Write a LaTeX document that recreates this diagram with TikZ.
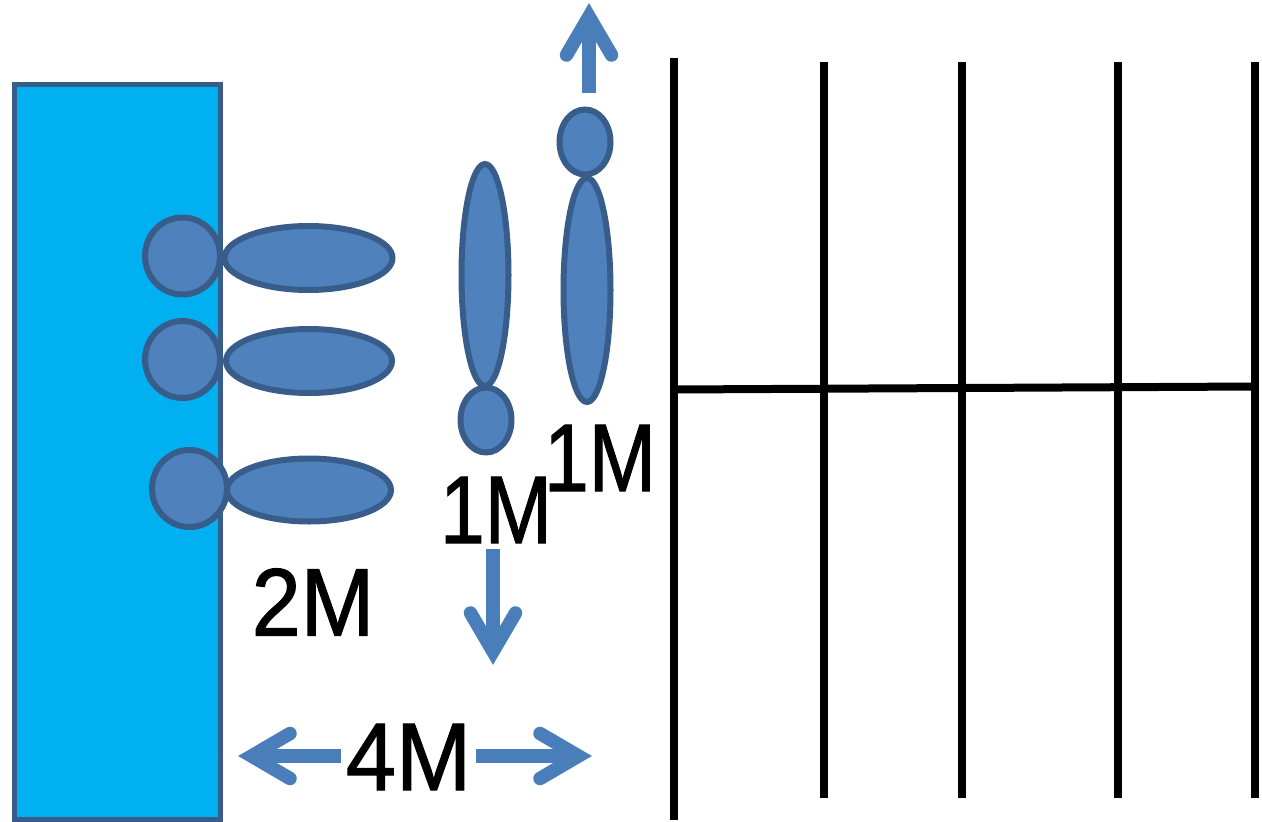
\documentclass[tikz,border=0pt]{standalone}
\usepackage{fontspec}
\setmainfont{Liberation Sans}[RawFeature={embolden=1.2}]
\usetikzlibrary{shapes.geometric,calc}
\definecolor{blobfill}{HTML}{4F81BD}
\definecolor{blobline}{HTML}{385D8A}
\definecolor{arrowblue}{HTML}{4A7EBB}
\definecolor{wallblue}{HTML}{00B0F0}
\tikzset{
  blob/.style={ellipse,draw=blobline,fill=blobfill,line width=6pt,inner sep=0pt,outer sep=0pt,minimum width=#1},
  wall/.style={draw=blobline,fill=wallblue,line width=5pt,inner sep=0pt,outer sep=0pt,anchor=north west,minimum width=206.5pt,minimum height=735pt},
  rung/.style={draw=black,line width=8pt},
  shaft/.style={draw=arrowblue,line width=13.5pt},
  headmark/.style={draw=arrowblue,line width=13.5pt,line cap=round,miter limit=10},
  size/.style={font=\fontsize{96}{96}\selectfont,inner sep=0pt,text=black,xscale=#1,transform shape}
}
\newcommand{\headat}[2]{\draw[headmark,shift={(#1)},rotate=#2] (-52,22.5) -- (-13.5,0) -- (-52,-22.5);}
\begin{document}
\begin{tikzpicture}[x=1pt,y=-1pt]
\useasboundingbox (0,0) rectangle (1262,822);
\node[wall] (wallbox) at (14,84) {};
% heads on the wall
\node[blob=75pt,minimum height=77pt] (c1) at (182.5,256) {};
\node[blob=75pt,minimum height=77pt] (c2) at (182.5,359.5) {};
\node[blob=75pt,minimum height=77pt] (c3) at (189.5,488.5) {};
\node[blob=168pt,minimum height=64pt] (e1) at (308.5,258) {};
\node[blob=166pt,minimum height=64pt] (e2) at (309,361) {};
\node[blob=164pt,minimum height=63pt] (e3) at (309,490) {};
% vertical molecules
\node[blob=47pt,minimum height=222pt] (v1) at (485,275) {};
\node[blob=47pt,minimum height=224pt] (v2) at (587,290) {};
\node[blob=51pt,minimum height=65pt] (s1) at (486,420) {};
\node[blob=51pt,minimum height=65pt] (s2) at (585,142) {};
% lattice
\coordinate (a1) at (673.5,58);  \coordinate (a2) at (673.5,820);
\coordinate (b1) at (824,62);  \coordinate (b2) at (824,798);
\coordinate (d1) at (962,62);  \coordinate (d2) at (962,798);
\coordinate (f1) at (1117.5,62); \coordinate (f2) at (1117.5,798);
\coordinate (g1) at (1255,62); \coordinate (g2) at (1255,798);
\coordinate (h1) at (674,389.5); \coordinate (h2) at (1255,386.5);
\draw[rung] (a1) -- (a2);
\draw[rung] (b1) -- (b2);
\draw[rung] (d1) -- (d2);
\draw[rung] (f1) -- (f2);
\draw[rung] (g1) -- (g2);
\draw[rung] (h1) -- (h2);
% arrows
\coordinate (upS) at (589,93);   \coordinate (upT) at (589,3);
\coordinate (dnS) at (493,549);  \coordinate (dnT) at (493,665);
\coordinate (ltS) at (341,756);  \coordinate (ltT) at (238,756);
\coordinate (rtS) at (476,756);  \coordinate (rtT) at (592,756);
\draw[shaft] (upS) -- ($(upT)+(0,20)$);
\draw[shaft] (dnS) -- ($(dnT)+(0,-20)$);
\draw[shaft] (ltS) -- ($(ltT)+(20,0)$);
\draw[shaft] (rtS) -- ($(rtT)+(-20,0)$);
\headat{upT}{90}
\headat{dnT}{-90}
\headat{ltT}{180}
\headat{rtT}{0}
% labels
\node[size=0.92] (t2m) at (313,602) {2M};
\node[size=0.84] (t1a) at (496,510) {1M};
\node[size=0.84] (t1b) at (600,458) {1M};
\node[size=0.94] (t4m) at (408.5,757) {4M};
\end{tikzpicture}
\end{document}
